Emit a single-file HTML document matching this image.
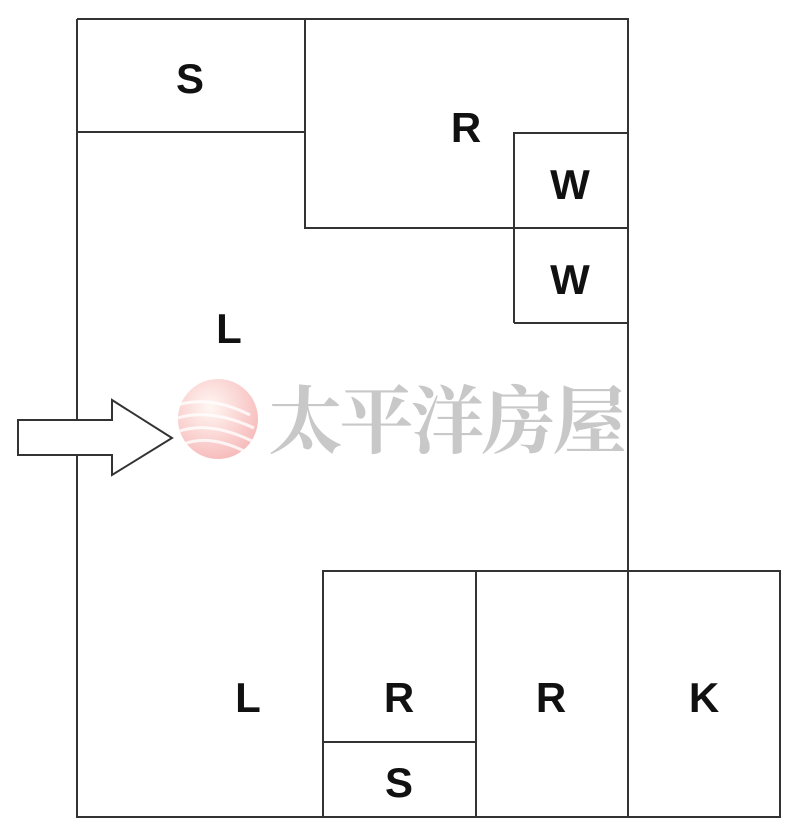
<!DOCTYPE html>
<html><head><style>body{margin:0;background:#fff}</style></head><body>
<svg width="800" height="838" xmlns="http://www.w3.org/2000/svg" style="display:block">
<g stroke="#333" stroke-width="2" fill="none">
<path d="M77,19 H628 V571 M77,19 V817 H780 V571 H323 V817 M476,571 V817 M628,571 V817 M323,742 H476"/>
<path d="M305,19 V228 H628 M77,132 H305 M514,323 V133 H628 M514,323 H628"/>
</g>
<defs><radialGradient id="g" cx="0.4" cy="0.35" r="0.7"><stop offset="0" stop-color="#fff5f0"/><stop offset="1" stop-color="#f4a8a8"/></radialGradient></defs>
<circle cx="218" cy="419" r="40" fill="url(#g)" opacity="0.8"/>
<g stroke="#fff" stroke-width="3" fill="none" opacity="0.8">
<path d="M178,405 Q210,395 250,415"/><path d="M178,418 Q210,408 254,428"/><path d="M180,431 Q210,421 252,441"/><path d="M184,444 Q210,434 246,452"/>
</g>
<text x="446" y="447" font-family="'Noto Serif CJK SC','Noto Sans CJK SC',serif" font-size="74" font-weight="bold" fill="#c8c8c8" text-anchor="middle" letter-spacing="-3">太平洋房屋</text>
<path d="M18,420 H112 V400 L172,438 L112,475 V455 H18 Z" fill="#fff" stroke="#333" stroke-width="2"/>
<g font-family="'Liberation Sans',sans-serif" font-size="42" font-weight="600" fill="#111" text-anchor="middle">
<text x="190" y="93">S</text><text x="466" y="142">R</text>
<text x="570" y="199">W</text><text x="570" y="294">W</text>
<text x="229" y="343">L</text><text x="248" y="712">L</text>
<text x="399" y="712">R</text><text x="551" y="712">R</text>
<text x="704" y="712">K</text><text x="399" y="797">S</text>
</g>
</svg>
</body></html>
